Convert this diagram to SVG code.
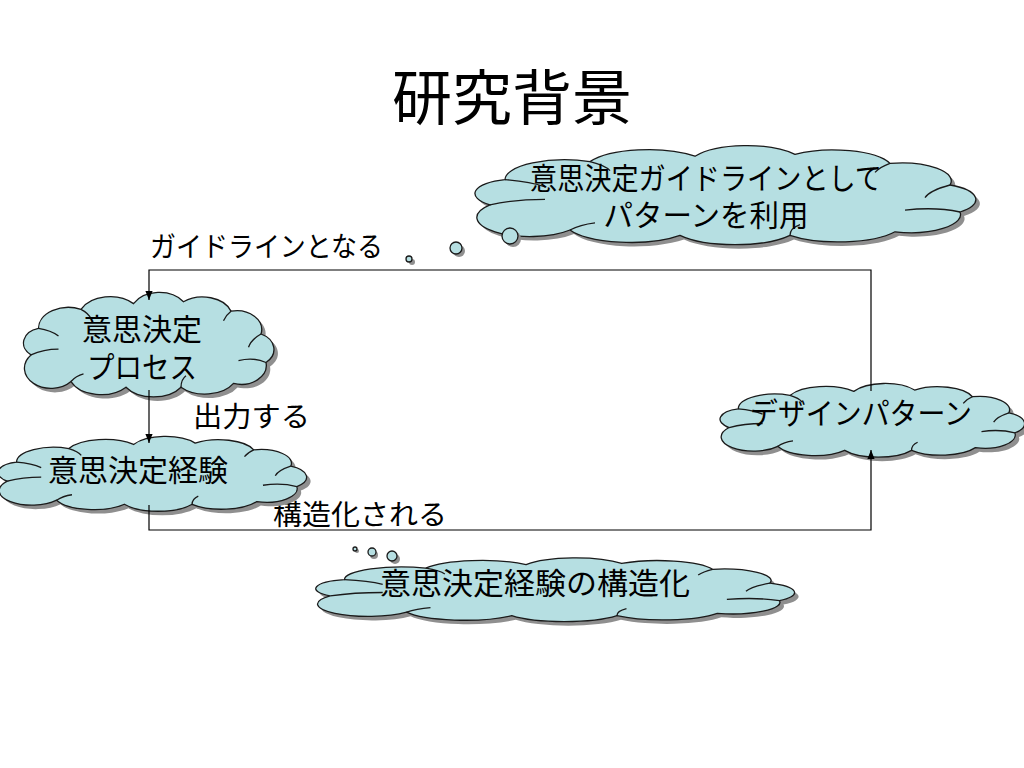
<svg xmlns="http://www.w3.org/2000/svg" xmlns:xlink="http://www.w3.org/1999/xlink" width="1024" height="768" viewBox="0 0 1024 768">
<style>
text{font-family:"Liberation Sans","Noto Sans CJK JP",sans-serif;fill:#000}
.t{font-size:30px;text-anchor:middle}
.lbl{font-size:28px}
.cl{fill:#b6dfe2;stroke:#1a1a1a;stroke-width:1.3}
.sh{fill:#8f8f8f;stroke:none}
.in{fill:none;stroke:#1a1a1a;stroke-width:1.3}
.conn{fill:none;stroke:#000;stroke-width:1.2}
.bub{fill:#b6dfe2;stroke:#1a1a1a;stroke-width:1.3}
</style>
<defs>
<path id="cloud" vector-effect="non-scaling-stroke" d="M 8 62 A 16 16 0 0 1 14 34 A 24 22 0 0 1 48 14 A 26 24 0 0 1 90 8 A 24 24 0 0 1 130 6 A 24 22 0 0 1 168 16 A 20 20 0 0 1 192 40 A 18 18 0 0 1 196 70 A 20 20 0 0 1 170 92 A 26 22 0 0 1 128 96 A 26 22 0 0 1 84 96 A 26 22 0 0 1 40 90 A 20 20 0 0 1 8 62 Z"/>
<path id="inner" vector-effect="non-scaling-stroke" d="M 14 34 Q 24 36 30 42 M 8 62 Q 18 56 30 56 M 192 40 Q 184 46 182 54 M 196 70 Q 186 64 174 68 M 48 14 Q 54 18 56 24 M 168 16 Q 164 20 162 26 M 128 96 Q 128 88 132 84 M 40 90 Q 44 84 50 82"/>
<marker id="ah" viewBox="0 0 10 10" refX="10" refY="5" markerWidth="9" markerHeight="9" markerUnits="userSpaceOnUse" orient="auto"><path d="M0 1 L10 5 L0 9 Z" fill="#000"/></marker>
</defs>
<text x="512" y="120" style="font-size:60px" text-anchor="middle">研究背景</text>
<g id="labels">
<text class="lbl" x="150" y="257" textLength="233" lengthAdjust="spacingAndGlyphs">ガイドラインとなる</text>
<text class="lbl" x="193" y="427" textLength="117" lengthAdjust="spacingAndGlyphs">出力する</text>
<text class="lbl" x="273" y="525" textLength="174" lengthAdjust="spacingAndGlyphs">構造化される</text>
</g>
<g id="node-guideline">
<use xlink:href="#cloud" class="sh" transform="translate(474,153) scale(2.5,0.9)"/>
<use xlink:href="#cloud" class="cl" transform="translate(470,149) scale(2.5,0.9)"/>
<use xlink:href="#inner" class="in" transform="translate(470,149) scale(2.5,0.9)"/>
<circle class="sh" cx="412" cy="262" r="3"/><circle class="bub" cx="409" cy="259" r="3"/>
<circle class="sh" cx="459" cy="251" r="6"/><circle class="bub" cx="456" cy="248" r="6"/>
<circle class="sh" cx="513" cy="239" r="8"/><circle class="bub" cx="510" cy="236" r="8"/>
<text class="t" x="706" y="189" textLength="352" lengthAdjust="spacingAndGlyphs">意思決定ガイドラインとして</text>
<text class="t" x="706" y="226" textLength="205" lengthAdjust="spacingAndGlyphs">パターンを利用</text>
</g>
<g id="node-process">
<use xlink:href="#cloud" class="sh" transform="translate(25,300) scale(1.25,0.95)"/>
<use xlink:href="#cloud" class="cl" transform="translate(21,296) scale(1.25,0.95)"/>
<use xlink:href="#inner" class="in" transform="translate(21,296) scale(1.25,0.95)"/>
<text class="t" x="142" y="340">意思決定</text>
<text class="t" x="142" y="378" textLength="110" lengthAdjust="spacingAndGlyphs">プロセス</text>
</g>
<g id="node-experience">
<use xlink:href="#cloud" class="sh" transform="translate(-1,443) scale(1.54,0.68)"/>
<use xlink:href="#cloud" class="cl" transform="translate(-5,439) scale(1.54,0.68)"/>
<use xlink:href="#inner" class="in" transform="translate(-5,439) scale(1.54,0.68)"/>
<text class="t" x="138" y="481">意思決定経験</text>
</g>
<g id="node-pattern">
<use xlink:href="#cloud" class="sh" transform="translate(721,390) scale(1.52,0.67)"/>
<use xlink:href="#cloud" class="cl" transform="translate(717,386) scale(1.52,0.67)"/>
<use xlink:href="#inner" class="in" transform="translate(717,386) scale(1.52,0.67)"/>
<text class="t" x="861" y="424" textLength="222" lengthAdjust="spacingAndGlyphs">デザインパターン</text>
</g>
<g id="node-structure">
<circle class="sh" cx="357" cy="551" r="2"/><circle class="bub" cx="355" cy="549" r="2"/>
<circle class="sh" cx="374" cy="555" r="4"/><circle class="bub" cx="372" cy="552" r="4"/>
<circle class="sh" cx="395" cy="559" r="5"/><circle class="bub" cx="392" cy="556" r="5"/>
<use xlink:href="#cloud" class="sh" transform="translate(315,564) scale(2.39,0.58)"/>
<use xlink:href="#cloud" class="cl" transform="translate(311,560) scale(2.39,0.58)"/>
<use xlink:href="#inner" class="in" transform="translate(311,560) scale(2.39,0.58)"/>
<text class="t" x="535" y="594" textLength="310" lengthAdjust="spacingAndGlyphs">意思決定経験の構造化</text>
</g>
<g id="connectors">
<path class="conn" d="M 871 391 L 871 270 L 149 270 L 149 300" marker-end="url(#ah)"/>
<path class="conn" d="M 149 390 L 149 443" marker-end="url(#ah)"/>
<path class="conn" d="M 149 505 L 149 530 L 871 530 L 871 450" marker-end="url(#ah)"/>
</g>
</svg>
